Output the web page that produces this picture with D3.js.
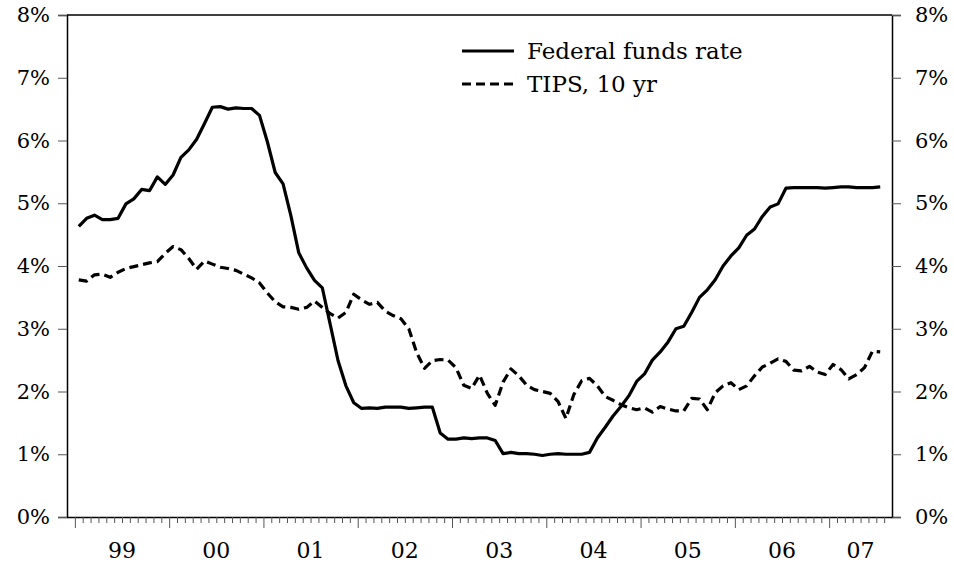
<!DOCTYPE html>
<html>
<head>
<meta charset="utf-8">
<script src="https://cdn.jsdelivr.net/npm/d3@7"></script>
<style>
  body { margin: 0; background: #fff; }
  text { font-family: "DejaVu Serif", serif; fill: #000; }
</style>
</head>
<body>
<svg id="chart"></svg>
<script>
// Data: monthly, Jan 1999 - Jul 2007
const startYear = 1999;
const yearLabels = ["99", "00", "01", "02", "03", "04", "05", "06", "07"];
const yTicks = [0, 1, 2, 3, 4, 5, 6, 7, 8];

const fedFunds = [
  4.63, 4.76, 4.81, 4.74, 4.74, 4.76, 4.99, 5.07, 5.22, 5.20, 5.42, 5.30,
  5.45, 5.73, 5.85, 6.02, 6.27, 6.53, 6.54, 6.50, 6.52, 6.51, 6.51, 6.40,
  5.98, 5.49, 5.31, 4.80, 4.21, 3.97, 3.77, 3.65, 3.07, 2.49, 2.09, 1.82,
  1.73, 1.74, 1.73, 1.75, 1.75, 1.75, 1.73, 1.74, 1.75, 1.75, 1.34, 1.24,
  1.24, 1.26, 1.25, 1.26, 1.26, 1.22, 1.01, 1.03, 1.01, 1.01, 1.00, 0.98,
  1.00, 1.01, 1.00, 1.00, 1.00, 1.03, 1.26, 1.43, 1.61, 1.76, 1.93, 2.16,
  2.28, 2.50, 2.63, 2.79, 3.00, 3.04, 3.26, 3.50, 3.62, 3.78, 4.00, 4.16,
  4.29, 4.49, 4.59, 4.79, 4.94, 4.99, 5.24, 5.25, 5.25, 5.25, 5.25, 5.24,
  5.25, 5.26, 5.26, 5.25, 5.25, 5.25, 5.26
];

const tips10 = [
  3.78, 3.76, 3.86, 3.87, 3.82, 3.90, 3.96, 3.99, 4.02, 4.05, 4.07, 4.20,
  4.31, 4.26, 4.12, 3.95, 4.08, 4.03, 3.98, 3.96, 3.93, 3.87, 3.81, 3.73,
  3.57, 3.43, 3.35, 3.34, 3.31, 3.34, 3.44, 3.34, 3.24, 3.17, 3.26, 3.55,
  3.46, 3.39, 3.42, 3.28, 3.21, 3.16, 3.00, 2.62, 2.37, 2.49, 2.51, 2.50,
  2.38, 2.10, 2.05, 2.26, 1.97, 1.78, 2.15, 2.36, 2.25, 2.10, 2.03, 2.00,
  1.97, 1.84, 1.57, 1.95, 2.17, 2.21, 2.09, 1.92, 1.86, 1.79, 1.74, 1.71,
  1.74, 1.67, 1.76, 1.72, 1.69, 1.69, 1.89, 1.88, 1.71, 1.98, 2.09, 2.14,
  2.03, 2.09, 2.25, 2.39, 2.45, 2.52, 2.48, 2.34, 2.33, 2.40, 2.31, 2.27,
  2.43, 2.35, 2.20, 2.27, 2.38, 2.64, 2.63
];

const series = [
  { name: "Federal funds rate", values: fedFunds, dash: null },
  { name: "TIPS, 10 yr", values: tips10, dash: "9,5" }
];

const width = 954, height = 567;
const margin = { top: 15, right: 62, bottom: 50, left: 67 };

const svg = d3.select("#chart")
    .attr("width", width)
    .attr("height", height);

// month index scale: 0 = start of Jan 1999, axis runs Dec 1998 .. Sep 2007
const x = d3.scaleLinear()
    .domain([-1, 104])
    .range([margin.left, width - margin.right]);

const y = d3.scaleLinear()
    .domain([0, 8])
    .range([height - margin.bottom, margin.top]);

// frame top
svg.append("line")
    .attr("x1", x(-1)).attr("x2", x(104))
    .attr("y1", y(8)).attr("y2", y(8))
    .attr("stroke", "#000").attr("stroke-width", 1.5);

// y axes
const yLeft = svg.append("g")
    .attr("transform", `translate(${x(-1)},0)`)
    .call(d3.axisLeft(y).tickValues(yTicks).tickSize(9).tickPadding(8).tickFormat(d => d + "%"));

const yRight = svg.append("g")
    .attr("transform", `translate(${x(104)},0)`)
    .call(d3.axisRight(y).tickValues(yTicks).tickSize(9).tickPadding(14).tickFormat(d => d + "%"));

[yLeft, yRight].forEach(g => {
    g.select(".domain").attr("stroke-width", 1.5);
    g.selectAll(".tick line").attr("stroke", "#555");
    g.selectAll("text").style("font-size", "21px").attr("font-family", null);
});

// x axis with month ticks
const xAxis = svg.append("g")
    .attr("transform", `translate(0,${y(0)})`)
    .call(d3.axisBottom(x).tickValues(d3.range(0, 104)).tickSize(6).tickFormat("").tickSizeOuter(0));

xAxis.select(".domain").attr("stroke-width", 1.5);
xAxis.selectAll(".tick line")
    .attr("stroke", "#555")
    .attr("y2", d => d % 12 === 0 ? 11 : 6);

// year labels centered in each year's span
svg.append("g")
    .selectAll("text")
    .data(yearLabels)
    .join("text")
    .attr("x", (d, i) => (x(Math.max(i * 12, -1)) + x(Math.min(i * 12 + 12, 104))) / 2)
    .attr("y", y(0) + 41)
    .attr("text-anchor", "middle")
    .style("font-size", "22px")
    .text(d => d);

// lines
const line = d3.line()
    .x((d, i) => x(i + 0.5))
    .y(d => y(d));

svg.append("g")
    .selectAll("path")
    .data(series)
    .join("path")
    .attr("d", d => line(d.values))
    .attr("fill", "none")
    .attr("stroke", "#000")
    .attr("stroke-width", 3.2)
    .attr("stroke-linejoin", "round")
    .attr("stroke-dasharray", d => d.dash);

// legend
const legend = svg.append("g")
    .attr("transform", "translate(462,51)");

const item = legend.selectAll("g")
    .data(series)
    .join("g")
    .attr("transform", (d, i) => `translate(0,${i * 33})`);

item.append("line")
    .attr("x1", 0).attr("x2", 52)
    .attr("stroke", "#000")
    .attr("stroke-width", 3.2)
    .attr("stroke-dasharray", d => d.dash);

item.append("text")
    .attr("x", 65)
    .attr("dy", "0.35em")
    .style("font-size", "23px")
    .text(d => d.name);
</script>
</body>
</html>
